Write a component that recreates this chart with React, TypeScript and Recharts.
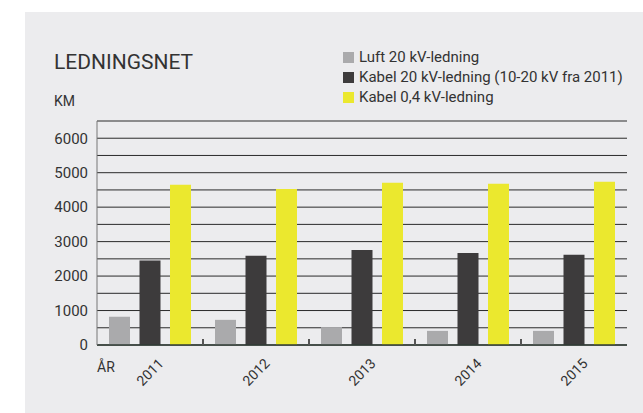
import { BarChart, Bar, XAxis, YAxis, CartesianGrid } from 'recharts';

const years = ['2011', '2012', '2013', '2014', '2015'];
const luft20 = [820, 730, 520, 410, 410];
const kabel20 = [2450, 2590, 2760, 2670, 2620];
const kabel04 = [4650, 4530, 4710, 4680, 4740];
const yTicks = [0, 500, 1000, 1500, 2000, 2500, 3000, 3500, 4000, 4500, 5000, 5500, 6000, 6500];

const seriesKeys = ['luft', 'kabel20', 'kabel04'];
const seriesNames = ['Luft 20 kV-ledning', 'Kabel 20 kV-ledning (10-20 kV fra 2011)', 'Kabel 0,4 kV-ledning'];
const seriesColors = ['#aaaaac', '#3d3b3c', '#ebe82e'];

const FONT = 'Roboto, "Liberation Sans", sans-serif';
const TEXT = '#333333';

const data = years.map((year, i) => ({
    year,
    luft: luft20[i],
    kabel20: kabel20[i],
    kabel04: kabel04[i],
}));

const YearTick = (props: any) => {
    const { x, y, payload, index } = props;
    const half = payload?.offset ?? 0;
    const ly = y + 27;
    return (
        <g>
            {index > 0 && (
                <line x1={x - half} x2={x - half} y1={y - 6} y2={y} stroke="#555" strokeWidth={2} />
            )}
            <text
                x={x}
                y={ly}
                transform={`rotate(-45 ${x} ${ly})`}
                textAnchor="middle"
                dominantBaseline="central"
                fontSize={14}
                fontFamily={FONT}
                fill={TEXT}
            >
                {payload.value}
            </text>
        </g>
    );
};

export default function App() {
    return (
        <div style={{ position: 'fixed', left: 0, top: 0, width: 643, height: 413, background: '#fff', overflow: 'hidden' }}>
            <div style={{ position: 'absolute', left: 25, top: 12, width: 618, height: 401, background: '#ececee' }} />
            <div style={{ position: 'absolute', left: 54, top: 49, fontFamily: FONT, fontSize: 21, color: TEXT, lineHeight: '26px' }}>
                LEDNINGSNET
            </div>
            <div style={{ position: 'absolute', left: 54, top: 92, fontFamily: FONT, fontSize: 14, color: TEXT, lineHeight: '18px' }}>
                KM
            </div>
            <div style={{ position: 'absolute', left: 97, top: 358, fontFamily: FONT, fontSize: 14, color: TEXT, lineHeight: '18px' }}>
                ÅR
            </div>
            <div style={{ position: 'absolute', left: 343, top: 47, fontFamily: FONT, fontSize: 15, color: TEXT }}>
                {seriesNames.map((name, i) => (
                    <div key={name} style={{ display: 'flex', alignItems: 'center', height: 20 }}>
                        <span style={{ width: 11, height: 11, background: seriesColors[i], marginRight: 5, display: 'inline-block' }} />
                        <span>{name}</span>
                    </div>
                ))}
            </div>
            <div style={{ position: 'absolute', left: 0, top: 0 }}>
                <BarChart
                    width={643}
                    height={413}
                    data={data}
                    margin={{ top: 121, right: 16, left: 0, bottom: 28 }}
                    barSize={21}
                    barGap={9.5}
                >
                    <CartesianGrid horizontal vertical={false} stroke="#2a2a2a" strokeWidth={1} />
                    <XAxis
                        dataKey="year"
                        height={40}
                        axisLine={{ stroke: '#2f3b35', strokeWidth: 1.6 }}
                        tickLine={false}
                        tickSize={0}
                        tickMargin={0}
                        interval={0}
                        tick={<YearTick />}
                    />
                    <YAxis
                        width={97}
                        domain={[0, 6500]}
                        ticks={yTicks}
                        interval={0}
                        axisLine={{ stroke: '#777' }}
                        tickLine={false}
                        tickSize={6}
                        tickMargin={3}
                        tick={{ fontSize: 15, fill: TEXT, fontFamily: FONT }}
                        tickFormatter={(v: number) => (v % 1000 === 0 ? String(v) : '')}
                    />
                    {seriesKeys.map((key, i) => (
                        <Bar key={key} dataKey={key} name={seriesNames[i]} fill={seriesColors[i]} isAnimationActive={false} />
                    ))}
                </BarChart>
            </div>
        </div>
    );
}
